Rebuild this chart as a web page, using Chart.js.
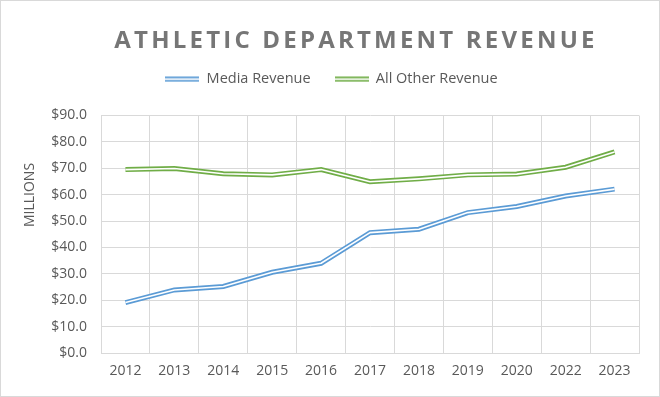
<!DOCTYPE html>
<html>
<head>
<meta charset="utf-8">
<script src="https://cdn.jsdelivr.net/npm/chart.js@4.4.0/dist/chart.umd.min.js"></script>
<style>
  html, body { margin: 0; padding: 0; background: #fff; }
  #wrap { position: relative; width: 660px; height: 397px; }
  #frame { position: absolute; left: 0; top: 0; width: 660px; height: 397px; box-sizing: border-box; border: 1px solid #d9d9d9; pointer-events: none; }
  #titulo { position: absolute; left: 0; top: 22px; width: 712px; text-align: center; font-family: "Open Sans", sans-serif; font-weight: bold; font-size: 24px; letter-spacing: 3.2px; color: #767676; }
</style>
</head>
<body>
<div id="wrap">
  <canvas id="grafico" width="660" height="397"></canvas>
  <div id="titulo">ATHLETIC DEPARTMENT REVENUE</div>
  <div id="frame"></div>
</div>
<script>
const anos = ["2012", "2013", "2014", "2015", "2016", "2017", "2018", "2019", "2020", "2022", "2023"];
const receitaMidia = [19.1, 23.9, 25.2, 30.6, 34.0, 45.6, 46.9, 53.2, 55.5, 59.5, 62.1];
const receitaOutras = [69.5, 69.9, 67.9, 67.5, 69.5, 64.9, 66.0, 67.5, 67.8, 70.4, 76.2];
const tituloEixoY = "MILLIONS";

const AZUL = "#5b9bd5";
const VERDE = "#70ad47";

// icone da legenda: linha dupla
function linhaDupla(cor) {
    const c = document.createElement("canvas");
    c.width = 34;
    c.height = 6;
    const g = c.getContext("2d");
    g.fillStyle = cor;
    g.fillRect(0, 0.5, 34, 5);
    g.fillStyle = "#fff";
    g.fillRect(0, 2.2, 34, 1.6);
    return c;
}

// desenha o traço branco no meio da linha (efeito linha dupla do Excel)
const pluginLinhaDupla = {
    id: "linhaDupla",
    afterDatasetDraw(chart, args) {
        const pts = args.meta.data;
        if (!pts.length) return;
        const ctx = chart.ctx;
        ctx.save();
        ctx.strokeStyle = "#fff";
        ctx.lineWidth = 1.6;
        ctx.lineJoin = "round";
        ctx.beginPath();
        pts.forEach((p, i) => i ? ctx.lineTo(p.x, p.y) : ctx.moveTo(p.x, p.y));
        ctx.stroke();
        ctx.restore();
    }
};

// titulo do eixo Y
const pluginTituloY = {
    id: "tituloY",
    afterDraw(chart) {
        const ctx = chart.ctx;
        ctx.save();
        ctx.translate(30, 195);
        ctx.rotate(-Math.PI / 2);
        ctx.fillStyle = "#595959";
        ctx.font = "14px 'Open Sans'";
        ctx.textAlign = "center";
        ctx.textBaseline = "middle";
        ctx.fillText(tituloEixoY, 0, 0);
        ctx.restore();
    }
};

// espaço extra abaixo da legenda
const pluginLegendaAltura = {
    id: "legendaAltura",
    beforeInit(chart) {
        const fitOriginal = chart.legend.fit;
        chart.legend.fit = function () {
            fitOriginal.bind(chart.legend)();
            this.height += 19;
        };
    }
};

Chart.defaults.font.family = "'Open Sans', sans-serif";
Chart.defaults.font.size = 14;
Chart.defaults.color = "#595959";

const ctx = document.getElementById("grafico");

new Chart(ctx, {
    type: "line",
    data: {
        labels: anos,
        datasets: [
            {
                label: "Media Revenue",
                data: receitaMidia,
                borderColor: AZUL,
                backgroundColor: AZUL,
                borderWidth: 5,
                pointRadius: 0,
                pointStyle: linhaDupla(AZUL),
                tension: 0
            },
            {
                label: "All Other Revenue",
                data: receitaOutras,
                borderColor: VERDE,
                backgroundColor: VERDE,
                borderWidth: 5,
                pointRadius: 0,
                pointStyle: linhaDupla(VERDE),
                tension: 0
            }
        ]
    },
    plugins: [pluginLinhaDupla, pluginTituloY, pluginLegendaAltura],
    options: {
        responsive: false,
        animation: false,
        layout: { padding: { top: 48, left: 24, right: 21, bottom: 0 } },
        plugins: {
            legend: {
                position: "top",
                labels: {
                    usePointStyle: true,
                    pointStyleWidth: 34,
                    padding: 24,
                    color: "#595959",
                    font: { size: 14.5 }
                }
            },
            tooltip: { enabled: false }
        },
        scales: {
            x: {
                offset: true,
                grid: { offset: true, color: "#d9d9d9", drawTicks: false },
                border: { color: "#d9d9d9" },
                ticks: { padding: 10 },
                afterFit(scale) { scale.height = 44; }
            },
            y: {
                min: 0,
                max: 90,
                ticks: {
                    stepSize: 10,
                    padding: 14,
                    callback: v => "$" + v.toFixed(1)
                },
                grid: { color: "#d9d9d9", drawTicks: false },
                border: { color: "#d9d9d9" },
                afterFit(scale) { scale.width = 77; }
            }
        }
    }
});
</script>
</body>
</html>
